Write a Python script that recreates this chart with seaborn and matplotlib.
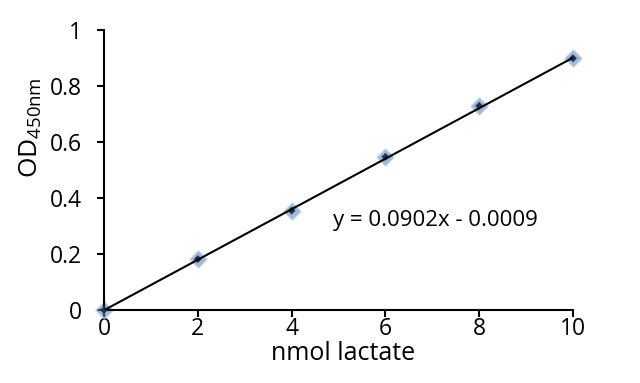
import matplotlib
matplotlib.use("Agg")
import matplotlib.pyplot as plt
import numpy as np
import pandas as pd
import seaborn as sns

nmol = [0, 2, 4, 6, 8, 10]
od450 = [0.0, 0.182, 0.355, 0.547, 0.729, 0.899]
fit_slope = 0.0902
fit_intercept = -0.0009
x_ticks = [0, 2, 4, 6, 8, 10]
y_ticks = [0, 0.2, 0.4, 0.6, 0.8, 1]
y_tick_labels = ["0", "0.2", "0.4", "0.6", "0.8", "1"]

sns.set_style("white")
plt.rcParams['font.family'] = ['Open Sans', 'DejaVu Sans']
plt.rcParams['mathtext.fontset'] = 'custom'
plt.rcParams['mathtext.rm'] = 'Open Sans'
plt.rcParams['text.color'] = 'black'
plt.rcParams['axes.labelcolor'] = 'black'
plt.rcParams['xtick.color'] = 'black'
plt.rcParams['ytick.color'] = 'black'

df = pd.DataFrame({'nmol': nmol, 'od': od450})
fit_x = np.array([nmol[0], nmol[-1]])
fit = pd.DataFrame({'nmol': fit_x, 'od': fit_slope * fit_x + fit_intercept})

fig = plt.figure(figsize=(6.4, 3.83), dpi=100)
ax = fig.add_axes([0.1625, 0.1906, 0.7328, 0.7311])

# blurry blue diamonds with a dark core, trendline drawn over them
sns.scatterplot(data=df, x='nmol', y='od', marker='D', s=70, color='#4f81bd',
                alpha=0.55, edgecolor='#a7c0de', linewidth=1.5, ax=ax, zorder=2)
sns.scatterplot(data=df, x='nmol', y='od', marker='D', s=16, color='#1f3550',
                edgecolor='none', ax=ax, zorder=3)
sns.lineplot(data=fit, x='nmol', y='od', color='black', linewidth=1.5, ax=ax, zorder=4)

ax.set_xlim(0, 10)
ax.set_ylim(0, 1)
ax.set_xticks(x_ticks)
ax.set_yticks(y_ticks)
ax.set_yticklabels(y_tick_labels)
ax.tick_params(axis='both', direction='out', length=5, width=1.5,
               labelsize=16.5, left=True, bottom=True)
ax.tick_params(axis='x', pad=0)
ax.tick_params(axis='y', pad=11)
for side in ['top', 'right']:
    ax.spines[side].set_visible(False)
for side in ['left', 'bottom']:
    ax.spines[side].set_color('black')
    ax.spines[side].set_linewidth(1.5)

ax.set_xlabel('nmol lactate', fontsize=18)
ax.xaxis.set_label_coords(0.51, -0.11)
ax.xaxis.label.set_va('top')
ax.set_ylabel(r'$\mathregular{OD_{450nm}}$', fontsize=19)
ax.yaxis.set_label_coords(-0.128, 0.65)
ax.text(0.488, 0.321, 'y = 0.0902x - 0.0009', transform=ax.transAxes, fontsize=16,
        ha='left', va='center')
ax.patch.set_alpha(0)
for coll in ax.collections:
    coll.set_clip_on(False)

fig.savefig('out.png', dpi=100)
